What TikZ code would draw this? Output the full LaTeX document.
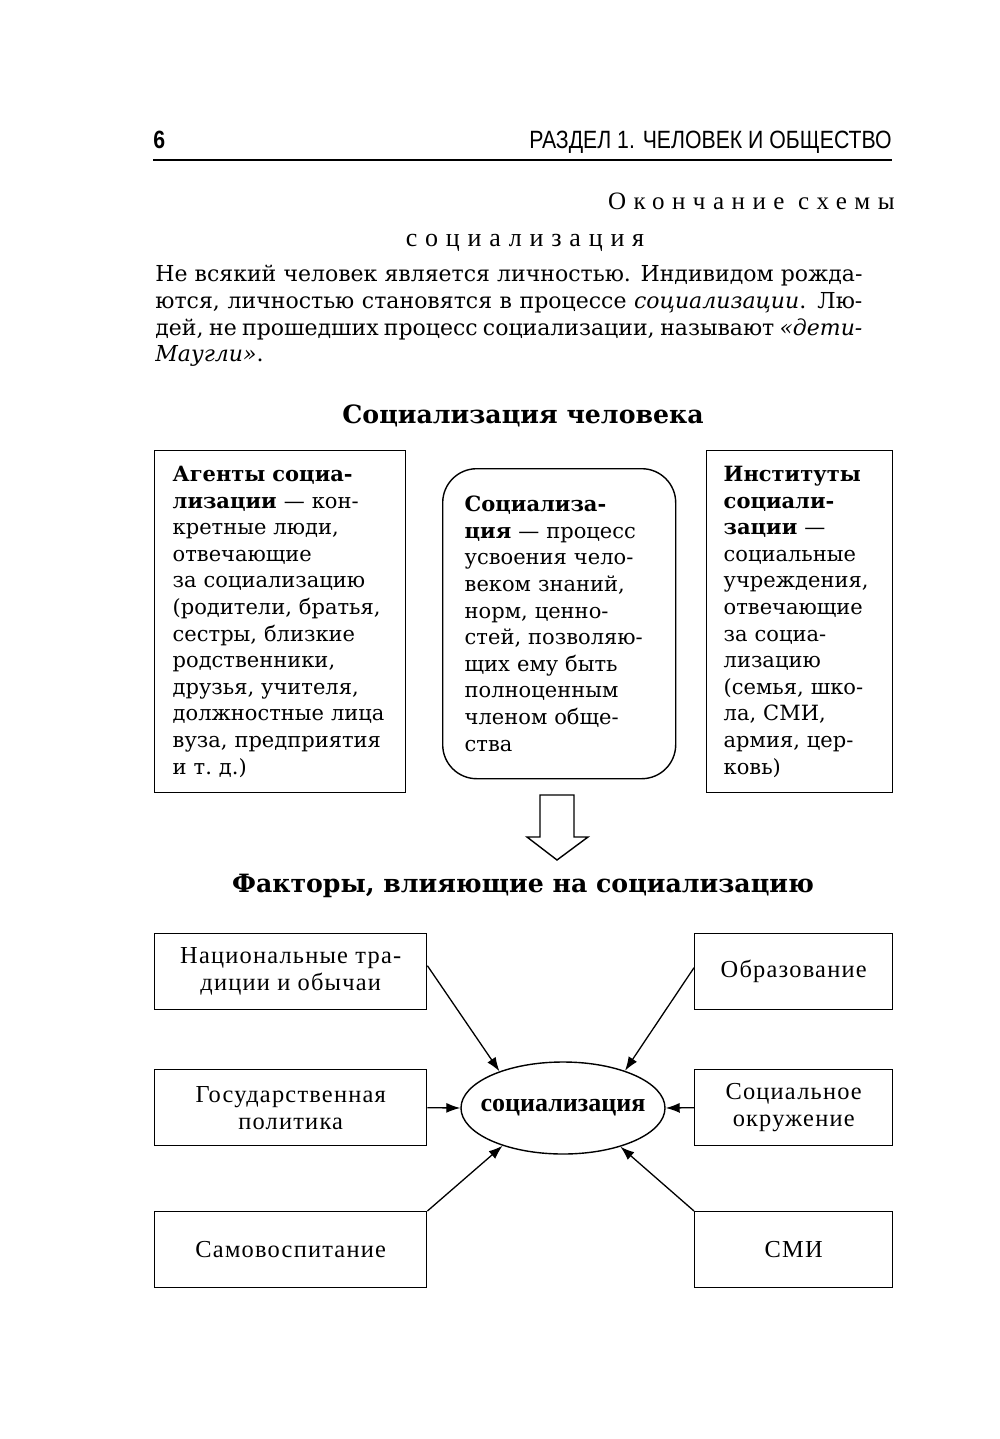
\documentclass[tikz,border=0pt]{standalone}
\usepackage{fontspec}
\setmainfont{DejaVu Serif}
\newfontfamily\headsans[FakeStretch=0.85]{Liberation Sans}
\newfontfamily\spacedserif[LetterSpace=30]{Liberation Serif}
\newfontfamily\factorfont[LetterSpace=5]{Liberation Serif}
\newfontfamily\ovalfont{Liberation Serif}
\usetikzlibrary{positioning,arrows.meta,shapes.geometric}

\begin{document}
\begin{tikzpicture}[x=0.5pt,y=-0.5pt,
  txt/.style={inner sep=0pt},
  defbox/.style={draw,line width=0.7pt,align=left,anchor=north west,inner ysep=0pt,
    font=\fontsize{10.5}{13.3}\selectfont},
  factor/.style={draw,line width=0.7pt,anchor=north west,minimum height=38pt,align=center,
    inner sep=0pt,font=\factorfont\fontsize{12.2}{13.5}\selectfont},
  arr/.style={-{Latex[length=7pt,width=5pt]},line width=0.65pt}
]
\useasboundingbox (0,0) rectangle (1000,1439);
% ---- en-tete de page ----
\node[txt,anchor=base west,font=\headsans\bfseries\fontsize{12.5}{14}\selectfont] (pnum) at (153,149) {6};
\node[txt,anchor=base east,font=\headsans\fontsize{12.5}{14}\selectfont] (runhead) at (892,149) {РАЗДЕЛ 1. ЧЕЛОВЕК И ОБЩЕСТВО};
\draw[line width=1pt] (153,160) -- (892,160);
\node[txt,anchor=base east,font=\spacedserif\fontsize{12.5}{14}\selectfont] (endnote) at (895,210) {Окончание схемы};
\node[txt,anchor=base,font=\spacedserif\fontsize{13}{14}\selectfont] (topic) at (525,247) {социализация};
\node[txt,anchor=north west,text width=353.5pt,align=justify,font=\fontsize{11}{13.3}\selectfont] (intro) at (155,265)
  {Не всякий человек является личностью. Индивидом рожда-\linebreak
   ются, личностью становятся в процессе \textit{социализации}. Лю-\linebreak
   дей, не прошедших процесс социализации, называют \textit{«дети-}\linebreak
   \textit{Маугли»}.};
% ---- schema du haut ----
\node[txt,anchor=base,font=\bfseries\fontsize{12.6}{16}\selectfont] (titlea) at (523,423) {Социализация человека};
\node[defbox,text width=107.5pt,inner xsep=9pt,minimum height=171pt] (agents) at (154,450)
  {\textbf{Агенты социа-}\\\textbf{лизации} — кон-\\кретные люди,\\отвечающие\\за социализацию\\(родители, братья,\\сестры, близкие\\родственники,\\друзья, учителя,\\должностные лица\\вуза, предприятия\\и т.~д.)};
\node[defbox,rounded corners=17pt,text width=94.5pt,inner xsep=11pt,minimum height=155pt] (process) at (442,468)
  {\textbf{Социализа-}\\\textbf{ция} — процесс\\усвоения чело-\\веком знаний,\\норм, ценно-\\стей, позволяю-\\щих ему быть\\полноценным\\членом обще-\\ства};
\node[defbox,text width=76pt,inner xsep=8.5pt,minimum height=171pt] (instit) at (706,450)
  {\textbf{Институты}\\\textbf{социали-}\\\textbf{зации} —\\социальные\\учреждения,\\отвечающие\\за социа-\\лизацию\\(семья, шко-\\ла, СМИ,\\армия, цер-\\ковь)};
% ---- fleche creuse ----
\draw[line width=0.7pt] (540,795) -- ++(34,0) -- ++(0,42) -- ++(14,0) -- (557,860) -- (527,837) -- ++(13,0) -- cycle;
% ---- facteurs ----
\node[txt,anchor=base,font=\bfseries\fontsize{12.6}{16}\selectfont] (titleb) at (523,892) {Факторы, влияющие на социализацию};
\node[factor,minimum width=136pt] (trad) at (154,933) {Национальные тра-\\диции и обычаи};
\node[factor,minimum width=136pt] (gos) at (154,1069) {Государственная\\политика};
\node[factor,minimum width=136pt] (samo) at (154,1211) {Самовоспитание};
\node[factor,minimum width=99pt] (obr) at (694,933) {Образование};
\node[factor,minimum width=99pt] (okr) at (694,1069) {Социальное\\окружение};
\node[factor,minimum width=99pt] (smi) at (694,1211) {СМИ};
\node[draw,line width=0.7pt,ellipse,minimum width=102pt,minimum height=46pt,inner sep=0pt,
  font=\ovalfont\bfseries\fontsize{13}{14}\selectfont] (soc) at (563,1108) {\makebox[0pt]{социализация}};
\draw[arr] ([yshift=3pt]trad.east) -- (soc.150);
\draw[arr] ([yshift=2pt]obr.west) -- (soc.31);
\draw[arr] (gos.east) -- (soc.west);
\draw[arr] (okr.west) -- (soc.east);
\draw[arr] (samo.north east) -- (soc.212);
\draw[arr] (smi.north west) -- (soc.326);
\end{tikzpicture}
\end{document}
